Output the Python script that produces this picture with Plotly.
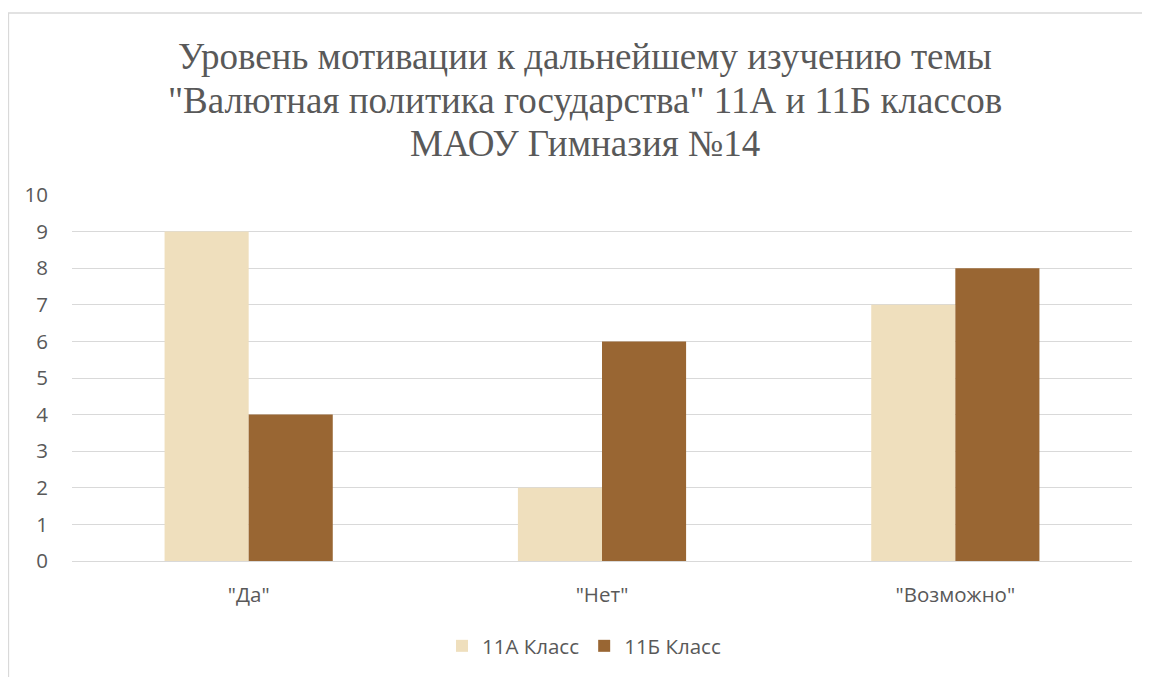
import plotly.graph_objects as go

categories = ['"Да"', '"Нет"', '"Возможно"']
series_a_name = "11А Класс"
series_b_name = "11Б Класс"
series_a = [9, 2, 7]
series_b = [4, 6, 8]
title_lines = [
    "Уровень мотивации к дальнейшему изучению темы",
    "\"Валютная политика государства\" 11А и 11Б классов",
    "МАОУ Гимназия №14",
]
y_ticks = list(range(0, 11))

# page body has an 8px margin; work in viewport pixels and convert
OFF = 8
W, H = 1142, 669
L, R, T, B = 64, 18, 187, 115
pw, ph = W - L - R, H - T - B

def px_x(vx):
    return (vx - OFF - L) / pw

def px_y(vy):
    return (H - B - (vy - OFF)) / ph

fig = go.Figure()
fig.add_trace(go.Bar(x=categories, y=series_a, name=series_a_name,
                     marker=dict(color="#EFDFBD", line=dict(width=0))))
fig.add_trace(go.Bar(x=categories, y=series_b, name=series_b_name,
                     marker=dict(color="#996633", line=dict(width=0))))

annotations = []
for line, vy in zip(title_lines, [56, 100, 143]):
    annotations.append(dict(text=line, x=px_x(585), y=px_y(vy), xref="paper", yref="paper",
                            xanchor="center", yanchor="middle", showarrow=False,
                            font=dict(family="Liberation Serif", size=37, color="#595959")))

sans = "Open Sans"
fs = 20.5
fig.update_layout(
    width=W, height=H,
    margin=dict(l=L, r=R, t=T, b=B),
    paper_bgcolor="white", plot_bgcolor="white",
    barmode="group", bargap=0.524, bargroupgap=0,
    font=dict(family=sans, size=fs, color="#595959"),
    annotations=annotations,
    showlegend=True,
    legend=dict(orientation="h", x=px_x(584), xanchor="center", y=px_y(646), yanchor="middle",
                font=dict(family=sans, size=fs, color="#595959"),
                itemwidth=30, traceorder="normal"),
    shapes=[dict(type="rect", xref="paper", yref="paper",
                 x0=px_x(8.5), x1=px_x(1170), y0=px_y(700), y1=px_y(12.5),
                 line=dict(color="#D9D9D9", width=1.3), layer="below")],
    xaxis=dict(showgrid=False, showline=True, linecolor="#D9D9D9", linewidth=1.3,
               ticks="", ticklabelstandoff=15, tickfont=dict(family=sans, size=fs, color="#595959")),
    yaxis=dict(range=[0, 10], tickvals=y_ticks, showgrid=True, gridcolor="#D9D9D9", gridwidth=1.3,
               zeroline=False, showline=False, ticks="", ticklabelstandoff=23,
               tickfont=dict(family=sans, size=fs, color="#595959")),
)

fig.write_html("out.html")
